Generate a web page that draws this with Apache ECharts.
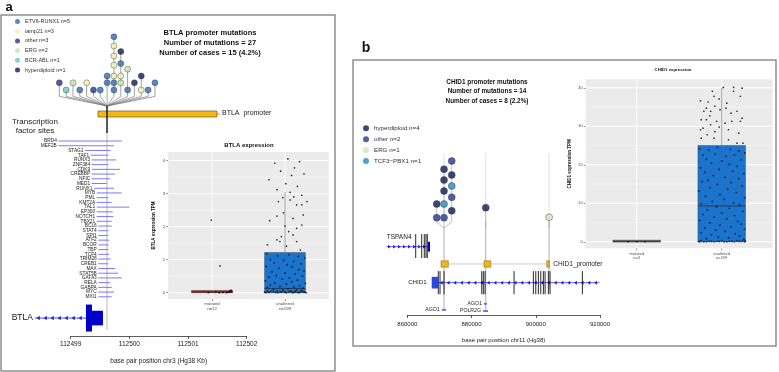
<!DOCTYPE html>
<html><head><meta charset="utf-8">
<script src="https://cdn.jsdelivr.net/npm/echarts@6/dist/echarts.min.js"></script>
<style>html,body{margin:0;padding:0;background:#fff}#c{width:779px;height:372px}</style>
</head><body><div id="c"></div>
<script>
const FONT = "'Liberation Sans', Arial, sans-serif";

// ================= Panel a data =================
const subtypesA = ['ETV6-RUNX1', 'iamp21', 'other', 'ERG', 'BCR-ABL', 'hyperdiploid'];
const subtypeCountsA = [5, 3, 3, 2, 1, 1];
const lolliAColX = [112498.806,112498.922,112499.039,112499.155,112499.272,112499.388,112499.504,112499.621,112499.737,112499.854,112499.970,112500.086,112500.203,112500.319,112500.436];
const lolliAStemX = 112499.619;
// [column, stack level, subtype index]
const lolliADots = [
 [0,0.9,2],[1,0,4],[2,0.9,3],[3,0,0],[4,0.9,1],[5,0,2],[6,0,0],[7,1.75,0],[7,0.9,0],
 [8,0,0],[8,0.9,0],[8,1.75,1],[8,3.1,1],[8,4.25,1],[8,5.5,1],[8,6.66,0],
 [9,0.9,3],[9,1.75,1],[9,3.3,0],[9,4.8,5],
 [10,0,0],[10,2.6,3],[11,0.9,5],[12,0,1],[12,1.75,5],[13,0,0],[14,0.9,0]
];
const promoterA = [112499.465, 112501.494];
const tfNamesA = ['BRD4','MEF2B','STAG1','TAF1','RUNX3','ZNF384','CDK9','CREBBP','NFIC','MED1','RUNX1','MYB','PML','KMT2A','TAL1','EP300','NOTCH1','TBX21','BCL6','STAT4','SPI1','ATF2','BCOR','TBP','TCF4','TRIM28','CREB1','MAX','STAT5B','GATA3','RELA','GABPA','MYC','MXI1'];
const tfStartA = [112498.789,112498.789,112499.244,112499.341,112499.358,112499.358,112499.358,112499.358,112499.358,112499.358,112499.397,112499.443,112499.443,112499.443,112499.443,112499.443,112499.443,112499.443,112499.470,112499.470,112499.470,112499.470,112499.470,112499.470,112499.470,112499.470,112499.470,112499.470,112499.470,112499.470,112499.470,112499.470,112499.470,112499.470];
const tfEndA = [112499.869,112499.738,112499.682,112499.641,112499.772,112499.641,112499.840,112499.755,112499.670,112499.614,112499.738,112499.869,112499.641,112499.699,112499.999,112499.716,112499.726,112499.699,112499.699,112499.641,112499.641,112499.658,112499.641,112499.641,112499.653,112499.682,112499.641,112499.755,112499.811,112499.869,112499.670,112499.699,112499.738,112499.699];
const btlaIntron = [112498.39, 112499.26];
const btlaCds = [112499.26, 112499.363];
const btlaUtr = [112499.363, 112499.55];
const xTicksA = [112499, 112500, 112501, 112502];

const catsA = ['mutated\nn=12', 'unaltered\nn=199'];
const boxStatsA = [[0, 0, 0.02, 0.07, 0.07], [0, 0, 0.13, 1.22, 3.05]]; // min,q1,med,q3,max
const mutA = [[-0.01,2.2],[0.11,0.81],[0.05,0.02],[0.15,0.01],[0.22,0.03],[0.25,0.06],[0.27,0.04],[0.2,0.0],[0.1,0.0],[-0.05,0.01],[0.24,0.02],[0.26,0.08]];
const unaltA = [
 [0.04,4.05],[-0.14,3.92],[0.2,3.97],[0.13,3.78],[-0.06,3.68],[0.09,3.55],[0.26,3.6],[-0.22,3.42],[0.01,3.3],[0.17,3.22],[-0.11,3.12],[0.07,3.04],[0.23,2.95],[-0.03,2.88],[0.12,2.9],
 [-0.09,2.76],[0.07,2.81],[0.16,2.66],[0.23,2.66],[0.3,2.76],[-0.02,2.42],[-0.11,2.32],[-0.21,2.18],[0.11,2.25],[0.25,2.35],[0.23,2.05],[0,2.02],[0.05,1.85],[0.11,1.75],[0.16,1.95],[-0.11,1.6],[-0.07,1.55],[-0.24,1.45],[0.16,1.55],[0.02,1.41],[0.21,1.29],[-0.05,1.7],
 [-0.25,1.18],[-0.1,1.12],[0.05,1.15],[0.18,1.1],[0.27,1.05],[-0.2,1.0],[-0.02,0.98],[0.12,0.95],[-0.15,0.9],[0.22,0.88],[0.03,0.85],[-0.26,0.8],[0.1,0.78],[-0.08,0.74],[0.19,0.7],[0.26,0.66],[-0.18,0.63],[0.0,0.6],[0.14,0.57],[-0.12,0.52],[0.24,0.5],[-0.22,0.47],[0.06,0.45],[-0.04,0.41],[0.17,0.38],[-0.27,0.36],[0.09,0.33],[-0.14,0.3],[0.28,0.28],[0.02,0.26],[-0.2,0.23],[0.2,0.21],[-0.07,0.19],[0.12,0.17],[-0.24,0.16],[0.25,0.14],[0.04,0.12],[-0.16,0.1],[0.16,0.09],[-0.03,0.08],[0.22,0.07],[-0.11,0.06],[0.08,0.05],
 [-0.28,0.02],[-0.22,0.01],[-0.16,0.03],[-0.1,0.0],[-0.05,0.02],[0.0,0.01],[0.05,0.03],[0.1,0.0],[0.15,0.02],[0.2,0.01],[0.25,0.03],[0.29,0.0],[-0.26,0.0],[-0.19,0.04],[-0.13,0.01],[-0.07,0.03],[0.02,0.0],[0.07,0.04],[0.12,0.01],[0.18,0.0],[0.23,0.04],[0.27,0.02],[-0.24,0.05],[-0.02,0.05],[0.14,0.05]
];
const yTicksA = [0, 1, 2, 3, 4];
const yMinorA = [0.5, 1.5, 2.5, 3.5];

// ================= Panel b data =================
const subtypesB = ['hyperdiploid', 'other', 'ERG', 'TCF3\u2212PBX1'];
const subtypeCountsB = [4, 2, 1, 1];
const lolliBStemX = [871433, 884424, 904143];
const lolliBColX = [869159, 871433, 873832, 884424, 904143];
const lolliBColStem = [0, 0, 0, 1, 2];
const lolliBDots = [[0,2.18,0],[0,0.94,1],[1,5.34,0],[1,4.36,0],[1,3.36,0],[1,2.18,3],[1,0.94,1],[2,6.09,1],[2,4.82,0],[2,3.82,3],[2,2.79,1],[2,1.57,0],[3,1.85,0],[4,0.97,2]];
const promoterBStart = [870498, 883894, 903427];
const promoterBEnd = [872772, 885981, 904237];
const chid1Intron = [869657, 919813];
const chid1Block = [867601, 869657];
const chid1Exons = [869657, 870187, 871433, 883178, 883676, 884206, 893240, 899252, 900000, 900811, 901558, 902368, 902897, 903925, 904455, 914517];
const tspan4Intron = [853583, 866449];
const tspan4Exons = [862617, 864486, 865296, 865826, 866231];
const tspan4Block = [866449, 867072];
const tfNamesB = ['AGO1', 'AGO1', 'POLR2G'];
const tfStartB = [870717, 883894, 883582];
const tfEndB = [872056, 884735, 885140];
const xTicksB = [860000, 880000, 900000, 920000];

const catsB = ['mutated\nn=3', 'unaltered\nn=199'];
const boxStatsB = [[0, 0, 0, 0, 0], [0, 0, 9.3, 25, 40]];
const mutB = [[-0.1,0],[0,0],[0.1,0]];
const unaltB = [
 [-0.25,36.6],[-0.16,36.3],[-0.11,39.1],[0.02,40.1],[0.14,40.1],[0.24,39.9],[-0.09,37.8],[-0.03,37.1],[0.06,36.0],[0.14,39.1],[0.22,37.8],[-0.21,33.9],[-0.18,34.7],[-0.13,33.9],[-0.08,35.2],[-0.02,34.3],[0.05,34.7],[0.11,33.4],[0.18,33.9],[0.24,32.1],[-0.24,31.7],[-0.18,31.7],[-0.14,32.7],[-0.06,31.3],[0.04,30.8],[0.12,31.3],[0.22,31.3],[-0.25,29.1],[-0.22,29.5],[-0.13,30.4],[-0.08,28.6],[-0.03,29.8],[0.08,29.1],[0.2,28.2],[-0.24,26.9],[-0.17,27.8],[-0.09,26.9],[0.08,26.5],[0.18,25.6],[0.25,25.6],
 [-0.26,24.2],[-0.15,23.8],[-0.05,24.5],[0.1,24.0],[0.2,23.6],[0.27,23.1],[-0.22,22.5],[-0.08,22.8],[0.05,22.2],[0.15,22.6],[-0.18,21.4],[0.0,21.0],[0.23,21.3],[-0.12,20.4],[0.09,20.1],[0.18,19.6],[-0.25,19.2],[-0.03,18.8],[0.13,18.3],[-0.2,18.0],[0.26,17.7],[-0.1,17.2],[0.04,16.8],[0.2,16.4],[-0.16,16.0],[-0.23,15.6],[0.11,15.4],[-0.05,14.9],[0.24,14.5],[-0.14,14.1],[0.07,13.7],[-0.27,13.2],[0.17,12.8],[-0.02,12.3],[-0.19,11.8],[0.27,11.4],[0.03,11.0],[-0.11,10.5],[0.14,10.1],[-0.24,9.8],[0.21,9.5],[-0.06,9.1],[0.09,8.7],[-0.17,8.3],[0.25,7.9],[0.0,7.5],[-0.22,7.1],[0.15,6.8],[-0.09,6.4],[0.06,6.0],[-0.26,5.6],[0.19,5.3],[-0.14,4.9],[0.23,4.6],[-0.02,4.3],[0.11,3.9],[-0.2,3.6],[0.27,3.3],[-0.07,3.0],[0.04,2.7],[-0.24,2.4],[0.16,2.1],[-0.12,1.8],[0.21,1.5],[-0.04,1.2],[0.08,1.0],[-0.18,0.8],[0.26,0.6],
 [-0.27,0.1],[-0.21,0.0],[-0.15,0.2],[-0.09,0.0],[-0.03,0.1],[0.03,0.0],[0.09,0.2],[0.15,0.0],[0.21,0.1],[0.27,0.0],[-0.24,0.3],[-0.12,0.1],[0.0,0.3],[0.12,0.1],[0.24,0.2],[-0.18,0.0],[-0.06,0.2],[0.06,0.0],[0.18,0.3],[-0.26,0.0],[0.28,0.2]
];
const yTicksB = [0, 10, 20, 30, 40];
const yMinorB = [5, 15, 25, 35];

// ================= Styles / layout =================
const colorsA = ['#2f6db3', '#edf3b0', '#283593', '#c6e5b0', '#6fc3b5', '#0e1d58'];
const colorsB = ['#0d1b4f', '#27398f', '#cfe7b8', '#2a89bd'];
const boxFillA = ['#b22222', '#1c73cc'];
const boxFillB = ['#4d4d4d', '#1c73cc'];
const BOX_W = 0.56;
const FAN_BASE_A = -0.8, FAN_CONV_A = -2;
const ROW_PROM_A = -5.72, PROM_HALF_A = 0.64, ROW_GENE_A = 37.5;
const STEM_A = [-7.4, -1.7, 40];
const FAN_TOP_B = 0.57, LIGHT_TOP_B = 6.82, ROW_PROM_B = -3.27, ROW_CHID1 = -4.97, ROW_TSPAN4 = -1.7;
const STEM_BOTTOM_B = [-7.45, -7.55, -5.6];
const TF_ROW_B = [-7.45, -6.9, -7.55];

function txt(x, y, text, size, opt) {
  return Object.assign({type: 'text', x: x, y: y, silent: true,
    style: Object.assign({text: text, fontSize: size, fontFamily: FONT, fill: '#111', align: 'center', verticalAlign: 'middle'}, opt || {})});
}
function line(a, b, stroke, w) {
  return {type: 'line', shape: {x1: a[0], y1: a[1], x2: b[0], y2: b[1]}, style: {stroke: stroke, lineWidth: w}};
}
function chevrons(x1, x2, y, step, dir, color, h) {
  const out = [];
  for (let x = x1 + step / 2; x < x2 - 1; x += step) {
    const pts = dir < 0 ? [[x - h * 0.8, y], [x + h * 0.6, y - h], [x + h * 0.6, y + h]]
                        : [[x + h * 0.8, y], [x - h * 0.6, y - h], [x - h * 0.6, y + h]];
    out.push({type: 'polygon', shape: {points: pts}, style: {fill: color}});
  }
  return out;
}

const chart = echarts.init(document.getElementById('c'), null, {renderer: 'canvas'});
const hidden = {show: false};
const series = [];

// ---- panel a lollipop stems ----
const colTopsA = lolliAColX.map((x, i) => Math.max.apply(null, lolliADots.filter(d => d[0] === i).map(d => d[1])));
series.push({type: 'custom', xAxisIndex: 0, yAxisIndex: 0, clip: false, silent: true, z: 3,
  data: lolliAColX.map((x, i) => [x, colTopsA[i]]),
  renderItem: (p, api) => {
    const x = api.value(0), t = api.value(1);
    return {type: 'polyline', shape: {points: [api.coord([x, t]), api.coord([x, FAN_BASE_A]), api.coord([lolliAStemX, FAN_CONV_A])]},
      style: {stroke: '#7a7a7a', lineWidth: 0.7, fill: null}};
  }});
subtypesA.forEach((s, k) => series.push({type: 'scatter', name: s + ' n=' + subtypeCountsA[k], xAxisIndex: 0, yAxisIndex: 0,
  symbolSize: 6, z: 5, silent: true, clip: false, emphasis: {disabled: true},
  itemStyle: {color: colorsA[k], borderColor: '#333', borderWidth: 0.5},
  data: lolliADots.filter(d => d[2] === k).map(d => [lolliAColX[d[0]], d[1]])}));

// ---- panel a tracks ----
series.push({type: 'custom', xAxisIndex: 1, yAxisIndex: 1, clip: false, silent: true, z: 4,
  data: tfNamesA.map((n, i) => [tfStartA[i], tfEndA[i], i]),
  renderItem: (p, api) => {
    const a = api.coord([api.value(0), api.value(2)]), b = api.coord([api.value(1), api.value(2)]);
    return {type: 'group', children: [
      line(a, b, '#6a6aff', 0.9),
      txt(a[0] - 1.5, a[1], tfNamesA[p.dataIndex], 4.8, {align: 'right', fill: '#222'})
    ]};
  }});
series.push({type: 'custom', xAxisIndex: 1, yAxisIndex: 1, clip: false, silent: true, z: 3,
  data: [[promoterA[0], promoterA[1]]],
  renderItem: (p, api) => {
    const ch = [];
    ch.push(line(api.coord([lolliAStemX, STEM_A[1]]), api.coord([lolliAStemX, STEM_A[2]]), '#b0b0b0', 0.9));
    const tl = api.coord([promoterA[0], ROW_PROM_A - PROM_HALF_A]), br = api.coord([promoterA[1], ROW_PROM_A + PROM_HALF_A]);
    ch.push({type: 'rect', shape: {x: tl[0], y: tl[1], width: br[0] - tl[0], height: br[1] - tl[1]}, style: {fill: '#f4b614', stroke: '#5a4a20', lineWidth: 0.6}});
    const pe = api.coord([promoterA[1], ROW_PROM_A]);
    ch.push(line(pe, [pe[0] + 3, pe[1]], '#666', 0.6));
    ch.push(txt(pe[0] + 5, pe[1] - 0.5, 'BTLA  promoter', 7, {align: 'left', fill: '#222'}));
    ch.push(line(api.coord([lolliAStemX, STEM_A[0]]), api.coord([lolliAStemX, STEM_A[1]]), '#111', 1.4));
    const g1 = api.coord([btlaIntron[0], ROW_GENE_A]), g2 = api.coord([btlaIntron[1], ROW_GENE_A]);
    ch.push(line(g1, g2, '#1f1fd6', 0.8));
    chevrons(g1[0], g2[0], g1[1], 7, -1, '#1f1fd6', 2.2).forEach(c => ch.push(c));
    const c1 = api.coord([btlaCds[0], ROW_GENE_A - 2.86]), c2 = api.coord([btlaCds[1], ROW_GENE_A + 2.86]);
    ch.push({type: 'rect', shape: {x: c1[0], y: c1[1], width: c2[0] - c1[0], height: c2[1] - c1[1]}, style: {fill: '#0000cc'}});
    const u1 = api.coord([btlaUtr[0], ROW_GENE_A - 1.55]), u2 = api.coord([btlaUtr[1], ROW_GENE_A + 1.55]);
    ch.push({type: 'rect', shape: {x: u1[0], y: u1[1], width: u2[0] - u1[0], height: u2[1] - u1[1]}, style: {fill: '#0000cc'}});
    ch.push(txt(g1[0] - 2, g1[1], 'BTLA', 8.5, {align: 'right', fill: '#111'}));
    return {type: 'group', children: ch};
  }});

// ---- box panel helpers ----
function panelGrid(xi, yi, majors, minors, n) {
  return {type: 'custom', xAxisIndex: xi, yAxisIndex: yi, silent: true, z: 1, data: [[1, 0]],
    renderItem: (p, api) => {
      const cs = p.coordSys, ch = [];
      minors.forEach(v => { const y = api.coord([1, v])[1]; ch.push(line([cs.x, y], [cs.x + cs.width, y], '#f7f7f7', 0.5)); });
      majors.forEach(v => { const y = api.coord([1, v])[1]; ch.push(line([cs.x, y], [cs.x + cs.width, y], '#ffffff', 0.9)); });
      for (let i = 1; i <= n; i++) { const x = api.coord([i, 0])[0]; ch.push(line([x, cs.y], [x, cs.y + cs.height], '#ffffff', 0.9)); }
      return {type: 'group', children: ch};
    }};
}
function boxSeries(xi, yi, stats, fills) {
  return {type: 'custom', xAxisIndex: xi, yAxisIndex: yi, silent: true, z: 3,
    data: stats.map((s, i) => [i + 1].concat(s)),
    renderItem: (p, api) => {
      const c = api.value(0), mn = api.value(1), q1 = api.value(2), md = api.value(3), q3 = api.value(4), mx = api.value(5);
      const hw = BOX_W / 2;
      const tl = api.coord([c - hw, q3]), br = api.coord([c + hw, q1]);
      const ml = api.coord([c - hw, md]), mr = api.coord([c + hw, md]);
      const h = Math.max(br[1] - tl[1], 1.6);
      return {type: 'group', children: [
        line(api.coord([c, mx]), api.coord([c, q3]), '#8c8c8c', 0.8),
        line(api.coord([c, q1]), api.coord([c, mn]), '#8c8c8c', 0.8),
        {type: 'rect', shape: {x: tl[0], y: br[1] - h, width: br[0] - tl[0], height: h}, style: {fill: fills[p.dataIndex], stroke: '#3a3a3a', lineWidth: 0.4}},
        line(ml, mr, '#333', 0.9)
      ]};
    }};
}
function pts(xi, yi, list, cat) {
  return {type: 'scatter', xAxisIndex: xi, yAxisIndex: yi, symbolSize: 1.7, silent: true, z: 4, emphasis: {disabled: true},
    itemStyle: {color: '#000'}, data: list.map(d => [cat + d[0], d[1]])};
}

series.push(panelGrid(2, 2, yTicksA, yMinorA, 2));
series.push(boxSeries(2, 2, boxStatsA, boxFillA));
series.push(pts(2, 2, mutA, 1));
series.push(pts(2, 2, unaltA, 2));

// ---- panel b tracks ----
series.push({type: 'custom', xAxisIndex: 3, yAxisIndex: 3, clip: false, silent: true, z: 2,
  data: [[chid1Intron[0], chid1Intron[1]]],
  renderItem: (p, api) => {
    const ch = [];
    lolliBStemX.forEach(x => ch.push(line(api.coord([x, LIGHT_TOP_B]), api.coord([x, FAN_TOP_B]), '#dcdcdc', 0.9)));
    lolliBColX.forEach((x, i) => {
      const top = Math.max.apply(null, lolliBDots.filter(d => d[0] === i).map(d => d[1]));
      const sx = lolliBStemX[lolliBColStem[i]];
      ch.push({type: 'polyline', shape: {points: [api.coord([x, top]), api.coord([x, FAN_TOP_B]), api.coord([sx, 0])]}, style: {stroke: '#a8a8a8', lineWidth: 0.7, fill: null}});
    });
    lolliBStemX.forEach((x, i) => ch.push(line(api.coord([x, i === 0 ? 0 : FAN_TOP_B]), api.coord([x, STEM_BOTTOM_B[i]]), '#9a9a9a', 0.8)));
    ch.push(line(api.coord([promoterBEnd[0], ROW_PROM_B]), api.coord([promoterBStart[2], ROW_PROM_B]), '#b5b5b5', 0.7));
    promoterBStart.forEach((s, i) => {
      const a = api.coord([s, ROW_PROM_B + 0.29]), b = api.coord([promoterBEnd[i], ROW_PROM_B - 0.29]);
      ch.push({type: 'rect', shape: {x: a[0], y: a[1], width: b[0] - a[0], height: b[1] - a[1]}, style: {fill: '#f4b614', stroke: '#6b5a20', lineWidth: 0.5}});
    });
    const pl = api.coord([promoterBEnd[2], ROW_PROM_B]);
    ch.push(txt(pl[0] + 4, pl[1], 'CHID1_promoter', 6.5, {align: 'left', fill: '#222'}));
    const t1 = api.coord([tspan4Intron[0], ROW_TSPAN4]), t2 = api.coord([tspan4Intron[1], ROW_TSPAN4]);
    ch.push(line(t1, t2, '#1f1fd6', 0.7));
    chevrons(t1[0], t2[0], t1[1], 5, 1, '#1f1fd6', 1.9).forEach(c => ch.push(c));
    tspan4Exons.forEach(x => ch.push(line(api.coord([x, -0.55]), api.coord([x, -2.73]), '#111', 0.9)));
    const tb1 = api.coord([tspan4Block[0], -1.25]), tb2 = api.coord([tspan4Block[1], -2.15]);
    ch.push({type: 'rect', shape: {x: tb1[0], y: tb1[1], width: tb2[0] - tb1[0], height: tb2[1] - tb1[1]}, style: {fill: '#0000cc'}});
    ch.push(txt(t1[0], api.coord([0, -0.82])[1], 'TSPAN4', 6.5, {align: 'left', fill: '#222'}));
    const g1 = api.coord([chid1Intron[0], ROW_CHID1]), g2 = api.coord([chid1Intron[1], ROW_CHID1]);
    ch.push(line(g1, g2, '#1f1fd6', 0.7));
    chevrons(g1[0], g2[0], g1[1], 6.7, -1, '#1f1fd6', 2).forEach(c => ch.push(c));
    chid1Exons.forEach(x => ch.push(line(api.coord([x, ROW_CHID1 + 1.05]), api.coord([x, ROW_CHID1 - 1.05]), '#111', 0.9)));
    const b1 = api.coord([chid1Block[0], ROW_CHID1 + 0.53]), b2 = api.coord([chid1Block[1], ROW_CHID1 - 0.53]);
    ch.push({type: 'rect', shape: {x: b1[0], y: b1[1], width: b2[0] - b1[0], height: b2[1] - b1[1]}, style: {fill: '#2a45e0'}});
    ch.push(txt(b1[0] - 5, g1[1], 'CHID1', 6.2, {align: 'right', fill: '#222'}));
    tfNamesB.forEach((n, i) => {
      const a = api.coord([tfStartB[i], TF_ROW_B[i]]), b = api.coord([tfEndB[i], TF_ROW_B[i]]);
      ch.push(line(a, b, '#3030ff', 1.3));
      ch.push(txt(a[0] - 2, a[1], n, 5.2, {align: 'right', fill: '#222'}));
    });
    return {type: 'group', children: ch};
  }});
subtypesB.forEach((s, k) => series.push({type: 'scatter', name: s + ' n=' + subtypeCountsB[k], xAxisIndex: 3, yAxisIndex: 3,
  symbolSize: 7, z: 5, silent: true, clip: false, emphasis: {disabled: true},
  itemStyle: {color: colorsB[k], borderColor: '#333', borderWidth: 0.5},
  data: lolliBDots.filter(d => d[2] === k).map(d => [lolliBColX[d[0]], d[1]])}));

series.push(panelGrid(4, 4, yTicksB, yMinorB, 2));
series.push(boxSeries(4, 4, boxStatsB, boxFillB));
series.push(pts(4, 4, mutB, 1));
series.push(pts(4, 4, unaltB, 2));

const gridBase = {containLabel: false, outerBoundsMode: 'none'};
const plain = v => String(v);

const option = {
  animation: false,
  backgroundColor: '#fff',
  textStyle: {fontFamily: FONT},
  grid: [
    Object.assign({left: 70.7, width: 176, top: 30, height: 76}, gridBase),
    Object.assign({left: 70.7, width: 176, top: 100, height: 236}, gridBase),
    Object.assign({left: 168.2, width: 160.6, top: 152, height: 147, show: true, backgroundColor: '#ebebeb', borderWidth: 0}, gridBase),
    Object.assign({left: 407.3, width: 192.7, top: 150, height: 165}, gridBase),
    Object.assign({left: 585.7, width: 187, top: 79.3, height: 169, show: true, backgroundColor: '#ebebeb', borderWidth: 0}, gridBase)
  ],
  xAxis: [
    {gridIndex: 0, type: 'value', min: xTicksA[0], max: xTicksA[xTicksA.length - 1], show: false},
    {gridIndex: 1, type: 'value', position: 'bottom', min: xTicksA[0], max: xTicksA[xTicksA.length - 1], interval: 1,
      axisLine: {onZero: false, lineStyle: {color: '#333', width: 0.8}}, axisTick: {length: 3, lineStyle: {color: '#333', width: 0.8}},
      axisLabel: {formatter: plain, fontSize: 6.5, color: '#222', margin: 5, fontFamily: FONT}, splitLine: hidden,
      name: 'base pair position chr3 (Hg38 Kb)', nameLocation: 'middle', nameGap: 22, nameTextStyle: {fontSize: 6.5, color: '#222', fontFamily: FONT}},
    {gridIndex: 2, type: 'value', position: 'bottom', min: 0.4, max: 2.6, axisLine: {show: false, onZero: false}, splitLine: hidden,
      axisTick: {customValues: [1, 2], length: 2, lineStyle: {color: '#333', width: 0.5}},
      axisLabel: {customValues: [1, 2], formatter: v => catsA[Math.round(v) - 1], fontSize: 4.3, lineHeight: 4.6, margin: 3, color: '#4d4d4d', fontFamily: FONT}},
    {gridIndex: 3, type: 'value', position: 'bottom', min: xTicksB[0], max: xTicksB[xTicksB.length - 1], interval: 20000,
      axisLine: {onZero: false, lineStyle: {color: '#333', width: 0.8}}, axisTick: {length: 3, lineStyle: {color: '#333', width: 0.8}},
      axisLabel: {formatter: plain, fontSize: 6, color: '#222', margin: 6, fontFamily: FONT}, splitLine: hidden,
      name: 'base pair position chr11 (Hg38)', nameLocation: 'middle', nameGap: 22, nameTextStyle: {fontSize: 6, color: '#222', fontFamily: FONT}},
    {gridIndex: 4, type: 'value', position: 'bottom', min: 0.4, max: 2.6, axisLine: {show: false, onZero: false}, splitLine: hidden,
      axisTick: {customValues: [1, 2], length: 2, lineStyle: {color: '#333', width: 0.5}},
      axisLabel: {customValues: [1, 2], formatter: v => catsB[Math.round(v) - 1], fontSize: 4, lineHeight: 4.3, margin: 3, color: '#4d4d4d', fontFamily: FONT}}
  ],
  yAxis: [
    {gridIndex: 0, type: 'value', min: FAN_CONV_A, max: 7.5, show: false},
    {gridIndex: 1, type: 'value', min: -8.69, max: 41.3, inverse: true, show: false},
    {gridIndex: 2, type: 'value', min: -0.19, max: 4.26, axisLine: {show: false, onZero: false}, splitLine: hidden,
      axisTick: {customValues: yTicksA, length: 2, lineStyle: {color: '#333', width: 0.5}},
      axisLabel: {customValues: yTicksA, fontSize: 4.3, margin: 3, color: '#4d4d4d', fontFamily: FONT},
      name: 'BTLA expression TPM', nameLocation: 'middle', nameRotate: 90, nameGap: 12, nameTextStyle: {fontSize: 4.5, fontWeight: 'bold', color: '#111', fontFamily: FONT}},
    {gridIndex: 3, type: 'value', min: -7.909, max: 7.09, show: false},
    {gridIndex: 4, type: 'value', min: -1.7, max: 42.2, axisLine: {show: false, onZero: false}, splitLine: hidden,
      axisTick: {customValues: yTicksB, length: 2, lineStyle: {color: '#333', width: 0.5}},
      axisLabel: {customValues: yTicksB, fontSize: 4, margin: 3, color: '#4d4d4d', fontFamily: FONT},
      name: 'CHID1 expression TPM', nameLocation: 'middle', nameRotate: 90, nameGap: 13, nameTextStyle: {fontSize: 4.5, fontWeight: 'bold', color: '#111', fontFamily: FONT}}
  ],
  legend: [
    {data: subtypesA.map((s, i) => s + ' n=' + subtypeCountsA[i]), orient: 'vertical', left: 15, top: 18.5, padding: 0, itemWidth: 5, itemHeight: 5, itemGap: 3.7,
      icon: 'circle', selectedMode: false, itemStyle: {borderWidth: 0}, textStyle: {fontSize: 5.5, color: '#333', fontFamily: FONT, lineHeight: 5}},
    {data: subtypesB.map((s, i) => s + ' n=' + subtypeCountsB[i]), orient: 'vertical', left: 363, top: 125.3, padding: 0, itemWidth: 6, itemHeight: 6, itemGap: 4.9,
      icon: 'circle', selectedMode: false, itemStyle: {borderWidth: 0}, textStyle: {fontSize: 6.2, color: '#333', fontFamily: FONT, lineHeight: 6}}
  ],
  graphic: [
    {type: 'rect', silent: true, shape: {x: 1, y: 15, width: 334, height: 356}, style: {fill: null, stroke: '#8e8e8e', lineWidth: 1.5}},
    {type: 'rect', silent: true, shape: {x: 353, y: 60, width: 423, height: 286}, style: {fill: null, stroke: '#8e8e8e', lineWidth: 1.5}},
    txt(9, 7, 'a', 13, {fontWeight: 'bold'}),
    txt(366, 48, 'b', 14, {fontWeight: 'bold'}),
    txt(210, 33, 'BTLA promoter mutations', 7.5, {fontWeight: 'bold'}),
    txt(210, 43, 'Number of mutations = 27', 7.5, {fontWeight: 'bold'}),
    txt(210, 53, 'Number of cases = 15 (4.2%)', 7.5, {fontWeight: 'bold'}),
    txt(35, 122, 'Transcription', 8, {fill: '#222'}),
    txt(35, 131, 'factor sites', 8, {fill: '#222'}),
    txt(249, 145, 'BTLA expression', 6, {fontWeight: 'bold'}),
    txt(487, 82.7, 'CHID1 promoter mutations', 6.4, {fontWeight: 'bold'}),
    txt(487, 91.7, 'Number of mutations = 14', 6.4, {fontWeight: 'bold'}),
    txt(487, 101, 'Number of cases = 8 (2.2%)', 6.4, {fontWeight: 'bold'}),
    txt(673, 70, 'CHID1 expression', 4.3, {fontWeight: 'bold'})
  ],
  series: series
};
chart.setOption(option);
</script></body></html>
